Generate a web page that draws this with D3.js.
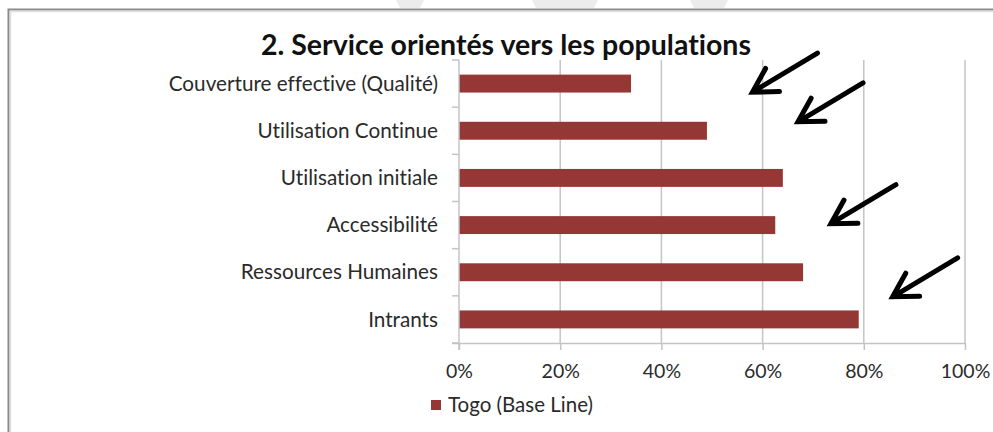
<!DOCTYPE html>
<html><head><meta charset="utf-8">
<script src="https://cdn.jsdelivr.net/npm/d3@7"></script>
<style>body{margin:0;background:#fff}svg{display:block}text{font-variant-ligatures:none;font-feature-settings:"liga" 0,"clig" 0}</style>
</head><body><svg id="c" width="993" height="432"></svg>
<script>
const title = "2. Service orientés vers les populations";
const categories = ["Couverture effective (Qualité)","Utilisation Continue","Utilisation initiale","Accessibilité","Ressources Humaines","Intrants"];
const values = [0.34,0.49,0.64,0.625,0.68,0.79];
const seriesName = "Togo (Base Line)";
const xTicks = [0,0.2,0.4,0.6,0.8,1.0];
// annotation arrows: tip position as (x value, position in band units from top)
const arrowTipX = [0.58,0.67,0.735,0.857];
const arrowTipBand = [0.68,1.31,3.47,5.02];

const W=993,H=432;
const m={left:459,right:965,top:60,bottom:343};
const svg=d3.select("#c");
const FONT="Lato, 'Open Sans', sans-serif";
const BAR="#953735";

// faint watermark bits above the frame
svg.append("g").selectAll("path").data([[396,410,424],[532,565,598],[690,709,728]]).join("path")
 .attr("d",d=>`M${d[0]},0L${d[2]},0L${d[2]-4},8L${d[0]+4},8Z`).attr("fill","#ececec");

// frame
svg.append("rect").attr("x",8.5).attr("y",9.5).attr("width",1100).attr("height",600)
 .attr("fill","#fff").attr("stroke","#8a8a8a").attr("stroke-width",2);
svg.append("path").attr("d","M10.5,600V11.5H1100").attr("fill","none").attr("stroke","#e0e0e0").attr("stroke-width",1.5);

const x=d3.scaleLinear().domain([0,1]).range([m.left,m.right]);
const y=d3.scaleBand().domain(categories).range([m.top,m.bottom]).paddingInner(0.62).paddingOuter(0.31);
const yPos=d3.scaleLinear().domain([0,categories.length]).range([m.top,m.bottom]);

// gridlines
svg.append("g").selectAll("line").data(xTicks.filter(t=>t>0)).join("line")
 .attr("x1",d=>x(d)).attr("x2",d=>x(d)).attr("y1",m.top).attr("y2",m.bottom)
 .attr("stroke","#c4c4c4").attr("stroke-width",1.5);

// bars
svg.append("g").selectAll("rect").data(values).join("rect")
 .attr("x",x(0)).attr("y",(d,i)=>y(categories[i])).attr("width",d=>x(d)-x(0)).attr("height",y.bandwidth())
 .attr("fill",BAR);

// bottom axis
const gx=svg.append("g").attr("transform",`translate(0,${m.bottom})`)
 .call(d3.axisBottom(x).tickValues(xTicks).tickFormat(d3.format(".0%")).tickSize(7).tickPadding(14));
gx.select(".domain").attr("stroke","#c4c4c4").attr("stroke-width",1.5).attr("d",`M${m.left-7},0.5H${m.right}`);
gx.selectAll(".tick line").attr("stroke","#c4c4c4").attr("stroke-width",1.5);
gx.selectAll("text").attr("font-family",FONT).attr("font-size",19.5).attr("fill","#2a2a2a");

// left axis
svg.append("line").attr("x1",m.left).attr("x2",m.left).attr("y1",m.top).attr("y2",m.bottom+7)
 .attr("stroke","#c4c4c4").attr("stroke-width",1.5);
svg.append("g").selectAll("line").data(d3.range(categories.length+1)).join("line")
 .attr("x1",m.left-7).attr("x2",m.left).attr("y1",d=>yPos(d)).attr("y2",d=>yPos(d))
 .attr("stroke","#c4c4c4").attr("stroke-width",1.5);
svg.append("g").selectAll("text").data(categories).join("text")
 .attr("x",m.left-21).attr("y",d=>y(d)+y.bandwidth()/2).attr("dy","0.35em")
 .attr("text-anchor","end").attr("font-family",FONT).attr("font-size",20.7).attr("fill","#2a2a2a").text(d=>d);

// title
svg.append("text").attr("x",506).attr("y",55).attr("text-anchor","middle")
 .attr("font-family",FONT).attr("font-weight","bold").attr("font-size",28.5).attr("fill","#111").text(title);

// legend
svg.append("rect").attr("x",431).attr("y",400).attr("width",10).attr("height",10).attr("fill",BAR);
svg.append("text").attr("x",448).attr("y",405).attr("dy","0.35em").attr("font-family",FONT).attr("font-size",20.5).attr("fill","#2a2a2a").text(seriesName);

// arrows
const shaft=[65,-39], L=27, ang=Math.atan2(shaft[1],shaft[0]), a=30*Math.PI/180;
svg.append("g").selectAll("path").data(arrowTipX).join("path")
 .attr("d",(d,i)=>{const tx=x(d),ty=yPos(arrowTipBand[i]);
   const b1=[tx+L*Math.cos(ang+a),ty+L*Math.sin(ang+a)], b2=[tx+L*Math.cos(ang-a),ty+L*Math.sin(ang-a)];
   return `M${tx+shaft[0]},${ty+shaft[1]}L${tx},${ty}M${b1[0]},${b1[1]}L${tx},${ty}L${b2[0]},${b2[1]}`;})
 .attr("fill","none").attr("stroke","#000").attr("stroke-width",5).attr("stroke-linecap","round").attr("stroke-linejoin","miter");
</script></body></html>
